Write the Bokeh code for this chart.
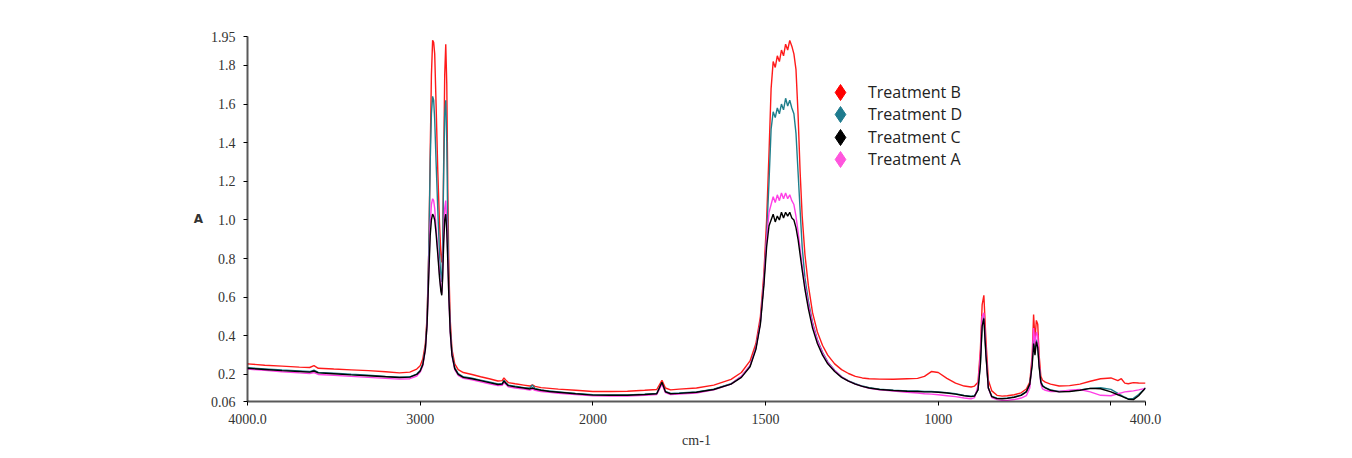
import numpy as np
from bokeh.plotting import figure
from bokeh.models import Range1d, FixedTicker, Legend, LegendItem
from bokeh.embed import file_html
from bokeh.resources import INLINE

# ---------------- data ----------------
wavenumber = [
    4000, 3900, 3800, 3700, 3640, 3615, 3590, 3500, 3400, 3300,
    3200, 3120, 3060, 3020, 3000, 2985, 2970, 2960, 2950, 2942,
    2935, 2928, 2922, 2916, 2908, 2898, 2888, 2880, 2875, 2870,
    2864, 2858, 2852, 2846, 2840, 2834, 2826, 2816, 2800, 2780,
    2750, 2700, 2650, 2600, 2550, 2525, 2515, 2505, 2490, 2450,
    2400, 2365, 2350, 2335, 2300, 2250, 2200, 2100, 2000, 1950,
    1900, 1850, 1815, 1800, 1790, 1775, 1750, 1700, 1650, 1600,
    1570, 1545, 1528, 1515, 1505, 1497, 1490, 1484, 1478, 1472,
    1466, 1460, 1454, 1448, 1442, 1436, 1430, 1424, 1418, 1412,
    1406, 1400, 1394, 1386, 1376, 1364, 1350, 1335, 1320, 1300,
    1280, 1260, 1240, 1220, 1200, 1170, 1130, 1090, 1060, 1040,
    1020, 1000, 975, 950, 925, 905, 895, 885, 878, 873,
    868, 862, 855, 845, 830, 815, 800, 780, 760, 745,
    735, 728, 724, 720, 716, 712, 708, 703, 698, 690,
    675, 650, 620, 590, 560, 530, 500, 480, 470, 460,
    450, 435, 420, 400,
]

treatment_b = [
    0.255, 0.248, 0.243, 0.238, 0.236, 0.246, 0.232, 0.228, 0.224, 0.220,
    0.214, 0.208, 0.212, 0.228, 0.245, 0.28, 0.36, 0.5, 0.85, 1.35,
    1.75, 1.93, 1.92, 1.86, 1.6, 1.25, 0.98, 0.82, 0.78, 0.85,
    1.3, 1.75, 1.91, 1.7, 1.15, 0.75, 0.48, 0.33, 0.255, 0.225,
    0.21, 0.2, 0.188, 0.178, 0.166, 0.168, 0.182, 0.172, 0.158, 0.152,
    0.145, 0.14, 0.146, 0.138, 0.132, 0.128, 0.124, 0.118, 0.112, 0.112,
    0.113, 0.118, 0.122, 0.17, 0.13, 0.12, 0.124, 0.13, 0.145, 0.175,
    0.21, 0.27, 0.36, 0.5, 0.72, 1.0, 1.35, 1.68, 1.82, 1.79,
    1.85, 1.82, 1.88, 1.85, 1.91, 1.88, 1.93, 1.9, 1.86, 1.78,
    1.55, 1.25, 1.02, 0.82, 0.66, 0.52, 0.42, 0.35, 0.3, 0.255,
    0.225, 0.205, 0.19, 0.182, 0.178, 0.176, 0.175, 0.178, 0.18, 0.19,
    0.215, 0.21, 0.18, 0.155, 0.14, 0.135, 0.14, 0.16, 0.33, 0.56,
    0.61, 0.38, 0.17, 0.115, 0.092, 0.088, 0.09, 0.095, 0.105, 0.125,
    0.16, 0.3, 0.51, 0.38, 0.48, 0.46, 0.3, 0.19, 0.17, 0.16,
    0.15, 0.14, 0.142, 0.15, 0.165, 0.178, 0.182, 0.168, 0.178, 0.155,
    0.152, 0.158, 0.156, 0.155,
]

treatment_d = [
    0.235, 0.229, 0.223, 0.218, 0.215, 0.222, 0.211, 0.207, 0.201, 0.196,
    0.19, 0.186, 0.188, 0.202, 0.22, 0.255, 0.34, 0.48, 0.85, 1.3,
    1.55, 1.64, 1.62, 1.52, 1.3, 1.05, 0.82, 0.7, 0.68, 0.85,
    1.25, 1.55, 1.62, 1.4, 0.95, 0.65, 0.44, 0.31, 0.235, 0.205,
    0.188, 0.181, 0.171, 0.161, 0.151, 0.153, 0.169, 0.159, 0.145, 0.139,
    0.132, 0.13, 0.145, 0.128, 0.12, 0.114, 0.11, 0.102, 0.095, 0.094,
    0.094, 0.098, 0.102, 0.157, 0.112, 0.102, 0.104, 0.11, 0.124, 0.152,
    0.19, 0.245, 0.34, 0.47, 0.68, 0.92, 1.2, 1.47, 1.56, 1.53,
    1.58, 1.55, 1.6, 1.57, 1.63, 1.59, 1.62, 1.58, 1.55, 1.45,
    1.25, 1.05, 0.86, 0.7, 0.58, 0.47, 0.38, 0.315, 0.265, 0.222,
    0.188, 0.167, 0.152, 0.14, 0.132, 0.124, 0.119, 0.115, 0.114, 0.112,
    0.112, 0.11, 0.106, 0.1, 0.092, 0.087, 0.09, 0.12, 0.26, 0.46,
    0.5, 0.31, 0.13, 0.087, 0.077, 0.076, 0.078, 0.084, 0.094, 0.112,
    0.15, 0.26, 0.38, 0.31, 0.38, 0.35, 0.25, 0.165, 0.142, 0.132,
    0.12, 0.112, 0.114, 0.12, 0.128, 0.131, 0.123, 0.102, 0.092, 0.082,
    0.074, 0.076, 0.096, 0.13,
]

treatment_c = [
    0.232, 0.226, 0.22, 0.215, 0.212, 0.218, 0.208, 0.204, 0.198, 0.193,
    0.188, 0.184, 0.186, 0.2, 0.218, 0.25, 0.33, 0.46, 0.72, 0.92,
    1.0, 1.03, 1.02, 1.0, 0.93, 0.82, 0.7, 0.63, 0.61, 0.7,
    0.88, 1.0, 1.03, 0.94, 0.78, 0.6, 0.42, 0.3, 0.23, 0.2,
    0.185, 0.178, 0.168, 0.158, 0.148, 0.15, 0.166, 0.156, 0.142, 0.136,
    0.13, 0.125, 0.13, 0.124, 0.118, 0.112, 0.108, 0.1, 0.093, 0.092,
    0.092, 0.096, 0.1, 0.16, 0.11, 0.1, 0.102, 0.108, 0.122, 0.15,
    0.185, 0.24, 0.33, 0.46, 0.66, 0.86, 0.97, 1.0, 1.03, 0.99,
    1.02, 1.0, 1.04, 1.01, 1.04, 1.02, 1.04, 1.01, 1.0, 0.96,
    0.9, 0.82, 0.74, 0.64, 0.54, 0.44, 0.36, 0.3, 0.255, 0.215,
    0.185, 0.165, 0.15, 0.138, 0.13, 0.122, 0.117, 0.113, 0.112, 0.11,
    0.11, 0.108, 0.104, 0.098, 0.09, 0.085, 0.088, 0.12, 0.25, 0.45,
    0.49, 0.3, 0.13, 0.085, 0.075, 0.074, 0.076, 0.082, 0.092, 0.11,
    0.15, 0.25, 0.36, 0.3, 0.37, 0.34, 0.24, 0.16, 0.14, 0.13,
    0.118, 0.11, 0.112, 0.118, 0.128, 0.126, 0.11, 0.095, 0.088, 0.08,
    0.072, 0.07, 0.09, 0.13,
]

treatment_a = [
    0.228, 0.221, 0.214, 0.208, 0.205, 0.21, 0.2, 0.196, 0.19, 0.185,
    0.18, 0.176, 0.178, 0.192, 0.212, 0.245, 0.33, 0.46, 0.74, 0.98,
    1.08, 1.11, 1.1, 1.06, 0.96, 0.84, 0.72, 0.64, 0.62, 0.72,
    0.92, 1.06, 1.1, 0.98, 0.8, 0.6, 0.42, 0.3, 0.225, 0.195,
    0.18, 0.172, 0.162, 0.152, 0.142, 0.144, 0.158, 0.15, 0.136, 0.13,
    0.124, 0.119, 0.124, 0.118, 0.112, 0.107, 0.103, 0.096, 0.089, 0.088,
    0.088, 0.092, 0.096, 0.15, 0.106, 0.096, 0.098, 0.104, 0.12, 0.15,
    0.19, 0.245, 0.335, 0.47, 0.68, 0.9, 1.04, 1.08, 1.12, 1.09,
    1.13, 1.1, 1.14, 1.11, 1.14, 1.11, 1.13, 1.1, 1.08, 1.02,
    0.94, 0.85, 0.76, 0.66, 0.56, 0.46, 0.375, 0.31, 0.262, 0.22,
    0.188, 0.166, 0.15, 0.138, 0.128, 0.12, 0.114, 0.108, 0.104, 0.1,
    0.098, 0.095, 0.09, 0.085, 0.078, 0.074, 0.08, 0.14, 0.3, 0.5,
    0.52, 0.32, 0.13, 0.08, 0.07, 0.066, 0.066, 0.07, 0.078, 0.09,
    0.13, 0.28, 0.44, 0.35, 0.42, 0.4, 0.26, 0.15, 0.125, 0.118,
    0.112, 0.112, 0.118, 0.122, 0.11, 0.092, 0.09, 0.1, 0.105, 0.11,
    0.112, 0.115, 0.12, 0.128,
]

series_names = ["Treatment B", "Treatment D", "Treatment C", "Treatment A"]
series_colors = ["#ff1a1a", "#1f7f8c", "#000000", "#ff40e6"]
legend_colors = ["#ff0000", "#1e7b8e", "#000000", "#ff55dd"]

x_tick_values = [4000, 3000, 2000, 1500, 1000, 500, 400]
x_tick_labels = ["4000.0", "3000", "2000", "1500", "1000", "", "400.0"]
y_tick_values = [0.06, 0.2, 0.4, 0.6, 0.8, 1.0, 1.2, 1.4, 1.6, 1.8, 1.95]
y_tick_labels = ["0.06", "0.2", "0.4", "0.6", "0.8", "1.0", "1.2", "1.4", "1.6", "1.8", "1.95"]

for s in (treatment_b, treatment_d, treatment_c, treatment_a):
    assert len(s) == len(wavenumber)


# FTIR axis: scale changes at 2000 cm-1 (half scale above 2000)
def to_axis(w):
    w = np.asarray(w, dtype=float)
    return np.where(w >= 2000, (4000.0 - w) / 2.0, 1000.0 + (2000.0 - w))


xu = to_axis(wavenumber)
xt = [float(v) for v in to_axis(x_tick_values)]

W, H = 1350, 456
p = figure(
    width=W, height=H,
    x_range=Range1d(0, float(to_axis([400])[0])),
    y_range=Range1d(0.06, 1.95),
    output_backend="svg", toolbar_location=None,
    min_border_left=247, min_border_right=W - 1145,
    min_border_top=36, min_border_bottom=H - 401,
    x_axis_label="cm-1", y_axis_label="A",
)
p.outline_line_color = None
p.xgrid.visible = False
p.ygrid.visible = False

# draw order: red, teal, magenta, black on top
order = [0, 1, 3, 2]
data = [treatment_b, treatment_d, treatment_c, treatment_a]
for i in order:
    p.line(xu, data[i], line_color=series_colors[i], line_width=1.4)

p.xaxis.axis_line_color = "black"
p.yaxis.axis_line_color = "black"
p.xaxis.axis_line_width = 2
p.yaxis.axis_line_width = 2
p.xaxis.axis_line_alpha = 0.65
p.yaxis.axis_line_alpha = 0.65
p.xaxis.major_tick_out = 4
p.yaxis.major_tick_out = 4
p.xaxis.major_tick_in = 0
p.yaxis.major_tick_in = 0
p.xaxis.minor_tick_line_color = None
p.yaxis.minor_tick_line_color = None
p.xaxis.major_label_text_font = "Liberation Serif"
p.yaxis.major_label_text_font = "Liberation Serif"
p.xaxis.major_label_text_font_size = "14px"
p.yaxis.major_label_text_font_size = "14px"
p.xaxis.major_label_text_color = "#333333"
p.yaxis.major_label_text_color = "#333333"
p.xaxis.axis_label_text_color = "#333333"
p.yaxis.axis_label_text_color = "#333333"

p.yaxis.axis_label_orientation = "horizontal"
p.yaxis.axis_label_text_font = "DejaVu Sans"
p.yaxis.axis_label_text_font_style = "bold"
p.yaxis.axis_label_text_font_size = "12px"
p.xaxis.axis_label_text_font = "Liberation Serif"
p.xaxis.axis_label_text_font_style = "normal"
p.xaxis.axis_label_text_font_size = "14px"
p.xaxis.axis_label_standoff = 6

p.xaxis.ticker = FixedTicker(ticks=xt)
p.xaxis.major_label_overrides = {t: l for t, l in zip(xt, x_tick_labels)}
p.xaxis.major_label_standoff = 8
p.yaxis.ticker = FixedTicker(ticks=y_tick_values)
p.yaxis.major_label_overrides = {t: l for t, l in zip(y_tick_values, y_tick_labels)}
p.yaxis.major_label_standoff = 8

# legend: one legend per entry so the diamonds can be large (rows 22px apart)
row_centers = [92, 114, 137, 159]
for name, col, cy in zip(series_names, legend_colors, row_centers):
    r = p.scatter(x=[np.nan], y=[np.nan], marker="diamond", size=16,
                  fill_color=col, line_color=col)
    lg = Legend(items=[LegendItem(label=name, renderers=[r])],
                location=(573, 401 - (cy + 20)), orientation="vertical",
                glyph_width=40, glyph_height=40, label_height=20,
                label_standoff=8, padding=0, margin=0,
                border_line_color=None, background_fill_alpha=0,
                label_text_font="Open Sans", label_text_font_size="16px",
                label_text_color="#222222")
    p.add_layout(lg)

open("out.html", "w").write(file_html(p, INLINE))
